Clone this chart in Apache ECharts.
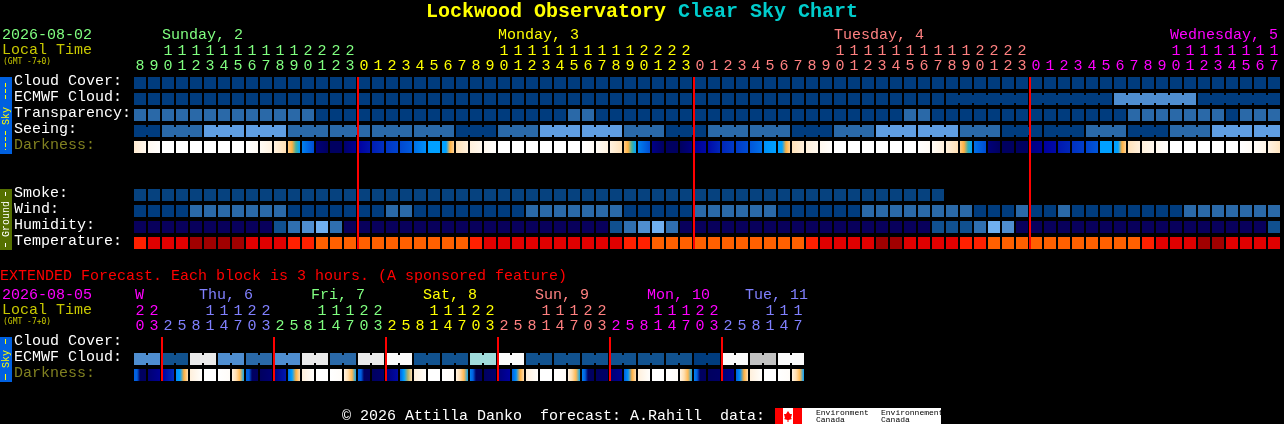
<!DOCTYPE html>
<html><head><meta charset="utf-8">
<style>html,body{margin:0;padding:0;background:#000}#c{width:1284px;height:424px}</style>
<script src="https://cdn.jsdelivr.net/npm/echarts@6/dist/echarts.min.js"></script>
</head><body><div id="c"></div>
<script>
const MONO = '"Liberation Mono", monospace';
const SMALL = '"DejaVu Sans Mono", monospace';
const mainRows = ['Cloud Cover:','ECMWF Cloud:','Transparency:','Seeing:','Darkness:','','','Smoke:','Wind:','Humidity:','Temperature:'];
const extRows = ['Cloud Cover:','ECMWF Cloud:','Darkness:'];
const mainHours = [8,9,10,11,12,13,14,15,16,17,18,19,20,21,22,23,
 0,1,2,3,4,5,6,7,8,9,10,11,12,13,14,15,16,17,18,19,20,21,22,23,
 0,1,2,3,4,5,6,7,8,9,10,11,12,13,14,15,16,17,18,19,20,21,22,23,
 0,1,2,3,4,5,6,7,8,9,10,11,12,13,14,15,16,17];
const extHours = [20,23,
 2,5,8,11,14,17,20,23, 2,5,8,11,14,17,20,23, 2,5,8,11,14,17,20,23,
 2,5,8,11,14,17,20,23, 2,5,8,11,14,17,20,23, 2,5,8,11,14,17];
const mainDays = [
 {name:'Sunday, 2',col:2,first:0,color:'#80ff80'},
 {name:'Monday, 3',col:26,first:16,color:'#ffff00'},
 {name:'Tuesday, 4',col:50,first:40,color:'#ff8080'},
 {name:'Wednesday, 5',col:74,first:64,color:'#ff00ff'}];
const extDays = [
 {name:'W',col:0,first:0,color:'#ff00ff'},
 {name:'Thu, 6',col:5,first:2,color:'#8080ff'},
 {name:'Fri, 7',col:13,first:10,color:'#80ff80'},
 {name:'Sat, 8',col:21,first:18,color:'#ffff00'},
 {name:'Sun, 9',col:29,first:26,color:'#ff8080'},
 {name:'Mon, 10',col:37,first:34,color:'#ff00ff'},
 {name:'Tue, 11',col:44,first:42,color:'#8080ff'}];
const midnightsMain = [16,40,64];
const midnightsExt = [2,10,18,26,34,42];

const cloudCover = [0,0,0,0,0,0,0,0,0,0,0,0,0,0,0,0,0,0,0,0,0,0,0,0,0,0,0,0,0,0,0,0,0,0,0,0,0,0,0,0,0,
 0,0,0,0,0,0,0,0,0,0,0,0,0,0,0,0,0,0,0,0,0,0,0,0,0,0,0,0,0,0,0,0,0,0,0,0,0,0,0,0,0];
const ecmwf = [0,0,0,0,0,0,0,0,0,0,0,0,0,0,0,0,0,0,0,0,0,0,0,0,0,0,0,0,0,0,0,0,0,0,0,0,0,0,0,0,0,
 0,0,0,0,0,0,0,0,0,0,0,0,0,0,0,0,0,0,0,0,0,0,0,0,0,0,0,0,0,3,3,3,3,3,3,0,0,0,0,0,0];
const transparency = [2,2,2,2,2,2,2,2,2,2,2,2,2,0,0,0,0,0,0,0,0,0,0,0,0,0,0,0,0,0,0,2,2,
 0,0,0,0,0,0,0,0,0,0,0,0,0,0,0,0,0,0,0,0,0,0,2,2,0,0,0,0,0,0,0,0,0,0,0,0,0,0,2,2,2,2,2,2,2,0,2,2,2];
const seeing = [0,0, 2,2,2, 4,4,4, 4,4,4, 2,2,2, 2,2,2, 2,2,2, 2,2,2, 0,0,0, 2,2,2, 4,4,4, 4,4,4,
 2,2,2, 0,0,0, 2,2,2, 2,2,2, 0,0,0, 2,2,2, 4,4,4, 4,4,4, 2,2,2, 0,0,0, 0,0,0, 2,2,2, 0,0,0, 2,2,2, 4,4,4, 4,4];
const darkness = [
 [1.2,.5],[.4,.1],[0,0],[0,0],[0,0],[0,0],[0,0],[0,0],[0,.3],[.3,.9],[.9,1.7],[2.2,2.6,3.6,4.6],[5.6,6.4],[8.6,9],[9,9],[8.8,8.2],
 [8,7.6],[7.4,7],[6.9,6.6],[6.5,6.1],[5.8,5.4],[5.2,5.1],[5,5,2.6,2.1],[1.7,1],[1,.5],[.5,.1],[0,0],[0,0],[0,0],[0,0],[0,0],[0,0],
 [0,.3],[.3,.9],[.9,1.6],[2.2,2.6,3.6,4.6],[5.6,6.4],[8.4,9],[9,9],[9,8.5],
 [8.2,7.8],[7.8,7.2],[7.2,6.8],[6.8,6.4],[6.2,5.8],[5.4,5.2],[5.2,5.1,2.6,2.1],[1.6,1],[1,.5],[.5,.1],[0,0],[0,0],[0,0],[0,0],[0,0],[0,0],
 [0,.3],[.3,1],[1,1.7],[2.2,2.6,3.8,4.6],[5.8,6.4],[8.6,9],[9,9],[9,9],
 [8.5,8.2],[8,7.8],[7.5,7.2],[7,6.7],[6.6,6.2],[5.2,5.2],[5.2,5.1,2.6,2.1],[1.6,1],[1,.5],[.5,.1],[0,0],[0,0],[0,0],[0,0],[0,0],[0,.3],[.2,.7],[.8,1.5]];
const smoke = [1,1,1,1,1,1,1,1,1,1,1,1,1,1,1,1,1,1,1,1,1,1,1,1,1,1,1,1,1,1,1,1,1,1,1,1,1,1,1,1,1,
 1,1,1,1,1,1,1,1,1,1,1,1,1,1,1,1,1,null,null,null,null,null,null,null,null,null,null,null,null,null,null,null,null,null,null,null,null,null,null,null,null];
const wind = [0,0,0,0,2,2,2,2,2,2,2,0,0,0,0,0,0,0,2,2,0,0,0,0,0,0,0,0,2,2,2,2,2,2,2,0,0,0,0,0,
 2,2,2,2,2,2,0,0,0,0,0,0,2,2,2,2,2,2,2,2,0,0,0,2,0,0,2,0,0,0,0,0,0,0,0,2,2,2,2,2,2,2];
const humidity = [0,0,0,0,0,0,0,0,0,0,1,2,3,4,2,0,0,0,0,0,0,0,0,0,0,0,0,0,0,0,0,0,0,0,1,2,3,4,2,
 0,0,0,0,0,0,0,0,0,0,0,0,0,0,0,0,0,0,1,1,1,2,4,3,0,0,0,0,0,0,0,0,0,0,0,0,0,0,0,0,0,0,1];
const temperature = [0,1,1,1,2,2,2,2,1,1,1,0,0,3,3,3,3,3,3,3,3,3,3,3,0,1,1,1,1,1,1,1,1,1,1,0,0,3,3,3,3,3,3,3,3,3,3,3,
 0,1,1,1,1,2,2,1,1,1,1,0,0,3,3,3,3,3,3,3,3,3,3,3,0,1,1,1,2,2,1,1,1,1];

const extEcmwf = [3,3,1,1,7,7,3,3,2,2,3,3,7,7,2,2,7,7,9,9,1,1,1,1,6,6,9,9,1,1,1,1,1,1,1,1,1,1,1,1,0,0,9,9,8,8,9,9];
const extDarkness = [
 [6,6,9,9,9],[8.7,8.2],[8,7],[5.4,5,2.6,1.8],[1,.1],[0,0],[0,.2],[.8,1.8,2.5,4.4],
 [6,6,9,9,9],[9,8.7],[8.5,7.5],[5.8,5.2,2.6,1.8],[1,.1],[0,0],[0,.2],[.8,1.8,2.5,4.4],
 [6,6,9,9,9],[9,8.8],[8.6,7.8],[6,5.2,3,1.8],[1,.1],[0,0],[0,.2],[.8,1.8,2.5,4.4],
 [5.6,6,9,9,9],[9,8.8],[8.6,8],[6,5.4,2.6,1.8],[1,.1],[0,0],[0,.2],[.8,1.8,2.5,4.4],
 [5.6,6,9,9,9],[9,8.9],[8.7,8.2],[6,5.4,2.6,1.8],[1,.1],[0,0],[0,.2],[.8,1.8,2.5,4.4],
 [5.6,6,9,9,9],[9,8.9],[8.7,8.2],[6,5.4,2.6,1.8],[1,.1],[0,0],[0,.2],[.8,1.8,2.5,5]];

const skyScale = ['#003c7e','#11528f','#2a69a8','#4f8ed0','#5f9ee2','#70b0f0','#a0dcdc','#eaeaea','#c2c2c2','#fbfbfb'];
const smokeScale = ['#003c7e','#06427f'];
const humidityScale = ['#08005c','#10508f','#2f6fb0','#4f8ed0','#70b0f0'];
const temperatureScale = ['#ff2000','#e00000','#a00000','#ff6000'];
const darknessStops = [[0,'#ffffff'],[1,'#fff0dc'],[2,'#ffd9a4'],[2.6,'#ffb040'],[3.6,'#40b0a0'],[4.6,'#00a4ff'],[5.2,'#00a0ff'],[6,'#0060e0'],[7,'#0030c0'],[8,'#0000a0'],[9,'#000060']];

function hex(c){return [1,3,5].map(i=>parseInt(c.substr(i,2),16));}
function darkColor(v){
  for(let i=1;i<darknessStops.length;i++){
    if(v<=darknessStops[i][0]){
      const a=darknessStops[i-1],b=darknessStops[i],t=(v-a[0])/(b[0]-a[0]);
      const A=hex(a[1]),B=hex(b[1]);
      return 'rgb('+A.map((x,k)=>Math.round(x+(B[k]-x)*t)).join(',')+')';
    }
  }
  return darknessStops[darknessStops.length-1][1];
}
const noJoin=()=>false;
function rowSeries(grid,row,values,fillOf,joins){
  return {type:'custom',xAxisIndex:grid*3,yAxisIndex:grid,clip:false,silent:true,
    data:values.map((v,i)=>[i,row]).filter((d)=>values[d[0]]!==null),
    renderItem(params,api){
      const col=api.value(0),c=api.coord([col,api.value(1)]),s=api.size([1,1]);
      const x=c[0]-s[0]/2+1,y=c[1]-s[1]/2+2,w=s[0]-2,h=s[1]-4,fill=fillOf(values[col]);
      const children=[{type:'rect',shape:{x,y,width:w,height:h},style:{fill}}];
      if(joins(col)&&col<values.length-1)children.push({type:'rect',shape:{x:x+w,y:y+2,width:2,height:h-4},style:{fill}});
      return {type:'group',children};
    }};
}
const flat=scale=>v=>scale[v];
const grad=v=>new echarts.graphic.LinearGradient(0,0,1,0,v.map((d,i)=>({offset:i/(v.length-1),color:darkColor(d)})));
function redLines(grid,cols,rowFirst,rowLast){
  return {type:'custom',xAxisIndex:grid*3,yAxisIndex:grid,clip:false,silent:true,z:5,
    data:cols.map(c=>[c,rowFirst,rowLast]),
    renderItem(p,api){
      const c=api.coord([api.value(0),api.value(1)]),e=api.coord([api.value(0),api.value(2)]),s=api.size([1,1]);
      return {type:'rect',shape:{x:c[0]-s[0]/2,y:c[1]-s[1]/2+2,width:2,height:e[1]-c[1]+s[1]-4},style:{fill:'#ff0000'}};
    }};
}
function colorAt(days,i){let col=days[0].color;days.forEach(d=>{if(i>=d.first)col=d.color});return col;}
function digitAxes(grid,hours,days,gridIdx){
  const base={type:'category',gridIndex:gridIdx,position:'top',data:hours.map((h,i)=>i),axisLine:{show:false},axisTick:{show:false},splitLine:{show:false}};
  const lab=(fmt,margin)=>({show:true,interval:0,margin,fontFamily:MONO,fontSize:15,hideOverlap:false,formatter:fmt,
     color:(v,i)=>colorAt(days,+v)});
  return [
   {...base,axisLabel:lab(v=>String(hours[+v]%10),1)},
   {...base,offset:15,axisLabel:lab(v=>hours[+v]>=10?String(Math.floor(hours[+v]/10)):'',1)},
   {...base,show:false}
  ];
}
function yAxis(gridIdx,rows){
  return {type:'category',gridIndex:gridIdx,inverse:true,data:rows.map((r,i)=>i),axisLine:{show:false},axisTick:{show:false},splitLine:{show:false},
    axisLabel:{show:true,interval:0,align:'left',verticalAlign:'bottom',lineHeight:4,margin:119,fontFamily:MONO,fontSize:15,formatter:v=>rows[+v],
      color:v=>rows[+v]==='Darkness:'?'#808020':'#ffffff'}};
}
function txt(text,x,y,fill,size,extra){
  const fam=extra&&extra.family||MONO;
  return Object.assign({type:'text',x,y,silent:true,style:{text,fill,font:(extra&&extra.weight||'')+' '+size+'px '+fam,textVerticalAlign:'middle',textAlign:'left'}});
}
function vert(text,y,fill,size){return {type:'text',x:6,y,rotation:Math.PI/2,silent:true,style:{text,fill,font:size+'px '+MONO,textAlign:'center',textVerticalAlign:'middle'}};}
function dash(y1,y2,color,d){return {type:'line',silent:true,shape:{x1:5.5,y1,x2:5.5,y2},style:{stroke:color,lineWidth:1,lineDash:d}};}
function dayTexts(days,y,off){return days.map(d=>txt(d.name,134+d.col*14+off(d),y,d.color,15));}
const graphicEls=[
 {type:'rect',silent:true,shape:{x:0,y:77,width:12,height:77},style:{fill:'#0060e0'}},
 {type:'rect',silent:true,shape:{x:0,y:189,width:12,height:61},style:{fill:'#557000'}},
 {type:'rect',silent:true,shape:{x:0,y:337,width:12,height:45},style:{fill:'#0060e0'}},
 dash(83,101,'#ffff00',[4,2]),dash(131,150,'#ffff00',[4,2]),vert('Sky',116,'#ffff00',10),
 dash(192,196,'#ffffff'),dash(243,247,'#ffffff'),vert('Ground',219,'#ffffff',10),
 dash(339,344,'#ffff00'),dash(374,380,'#ffff00'),vert('Sky',359,'#ffff00',10),
 txt('Lockwood Observatory',426,12,'#ffff00',20,{weight:'bold'}),
 txt('Clear Sky Chart',678,12,'#00cccc',20,{weight:'bold'}),
 txt('2026-08-02',2,35,'#80ff80',15),
 txt('Local Time',2,50,'#c8c800',15),
 txt('(GMT -7+0)',3,62,'#c8c800',8,{family:SMALL}),
 txt('EXTENDED Forecast. Each block is 3 hours. (A sponsored feature)',0,276,'#ff0000',15),
 txt('2026-08-05',2,295,'#ff00ff',15),
 txt('Local Time',2,310,'#c8c800',15),
 txt('(GMT -7+0)',3,322,'#c8c800',8,{family:SMALL}),
 txt('© 2026 Attilla Danko  forecast: A.Rahill  data:',342,416,'#ffffff',15),
 {type:'rect',silent:true,shape:{x:775,y:408,width:166,height:16},style:{fill:'#ffffff'}},
 {type:'rect',silent:true,shape:{x:775,y:408,width:8,height:16},style:{fill:'#ff0000'}},
 {type:'rect',silent:true,shape:{x:793,y:408,width:9,height:16},style:{fill:'#ff0000'}},
 {type:'polygon',silent:true,shape:{points:[[788,411],[790,414],[792,414],[791,418],[792,419],[788.5,420],[788.5,422],[787.5,422],[787.5,420],[784,419],[785,418],[784,414],[786,414]]},style:{fill:'#ff0000'}},
 txt('Environment',816,413,'#000000',8),txt('Canada',816,420,'#000000',8),
 txt('Environnement',881,413,'#000000',8),txt('Canada',881,420,'#000000',8),
 ...dayTexts(mainDays,35,d=>0),
 ...dayTexts(extDays,295,d=>d.col?-5:1)
];
const join3=c=>(c+1-2)%3!==0;
const ecmwfJoin=c=>c>=58&&(c+1-58)%6!==0;
const pairJoin=c=>c%2===0;
const option={
 backgroundColor:'#000000',animation:false,
 grid:[{left:133,top:75,width:1148,height:176},{left:133,top:335,width:672,height:48}],
 xAxis:[...digitAxes(0,mainHours,mainDays,0),...digitAxes(1,extHours,extDays,1)],
 yAxis:[yAxis(0,mainRows),yAxis(1,extRows)],
 series:[
  rowSeries(0,0,cloudCover,flat(skyScale),noJoin),
  rowSeries(0,1,ecmwf,flat(skyScale),ecmwfJoin),
  rowSeries(0,2,transparency,flat(skyScale),noJoin),
  rowSeries(0,3,seeing,flat(skyScale),join3),
  rowSeries(0,4,darkness,grad,noJoin),
  rowSeries(0,7,smoke,flat(smokeScale),noJoin),
  rowSeries(0,8,wind,flat(skyScale),noJoin),
  rowSeries(0,9,humidity,flat(humidityScale),noJoin),
  rowSeries(0,10,temperature,flat(temperatureScale),noJoin),
  redLines(0,midnightsMain,0,10),
  rowSeries(1,1,extEcmwf,flat(skyScale),pairJoin),
  rowSeries(1,2,extDarkness,grad,noJoin),
  redLines(1,midnightsExt,0,2)
 ],
 graphic:{elements:graphicEls}
};
echarts.init(document.getElementById('c'),null,{renderer:'canvas'}).setOption(option);
</script></body></html>
